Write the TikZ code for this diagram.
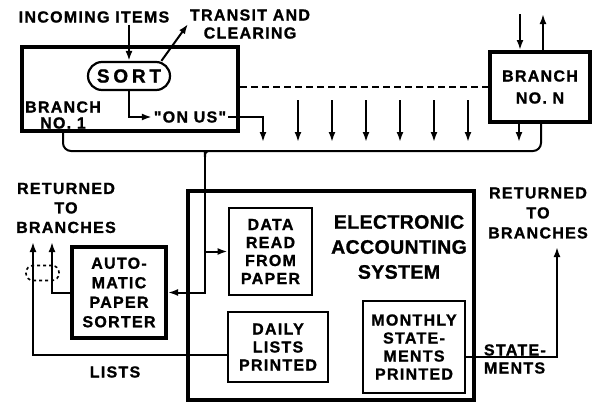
\documentclass[tikz,border=0pt]{standalone}
\usepackage{fontspec}
\setmainfont{Liberation Sans}[LetterSpace=8, BoldFeatures={FakeBold=1.2}]
\newfontfamily\quotefont{Liberation Sans}[LetterSpace=8, BoldFeatures={FakeBold=1.2}] % keeps the straight quotes
\usetikzlibrary{arrows.meta,positioning}

\begin{document}
\begin{tikzpicture}[x=1pt,y=-1pt,line width=2pt,
  font=\bfseries\fontsize{16}{18}\selectfont,
  arr/.style={-{Latex[length=10pt,width=7pt]}},
  heavy/.style={rectangle, draw, line width=4pt, align=center},
  unit/.style={rectangle, draw, line width=2.8pt, align=center},
  lbl/.style={align=center, inner sep=1pt}] % pixel units, y runs downwards
\useasboundingbox (0,0) rectangle (595,402);

% branches at the top
\node[heavy, minimum width=216pt, minimum height=84pt](B1) at (130,89){};
\node[heavy, minimum width=100pt, minimum height=70pt, font=\bfseries\fontsize{16}{22}\selectfont](BN) at (540,87){BRANCH\\NO. N};
\node[lbl, font=\bfseries\fontsize{16}{16}\selectfont](B1txt) at (63,115){BRANCH\\NO. 1};
\node[draw, line width=2.2pt, rounded corners=14pt, minimum width=82pt, minimum height=28pt,
  inner sep=0pt, font=\bfseries\fontsize{19}{22}\selectfont\addfontfeature{LetterSpace=20}](sort) at (129,76){SORT};
\node[lbl, font=\quotefont\bfseries\fontsize{16}{18}\selectfont](onus) at (190,117){"ON US"};
\node[lbl](incoming) at (94,17){INCOMING ITEMS};
\node[lbl](transit) at (250,24){TRANSIT AND\\CLEARING};

% accounting system and its units
\node[heavy, line width=3.6pt, minimum width=286pt, minimum height=209pt](EAS) at (331,295.5){};
\node[lbl, font=\bfseries\fontsize{19.5}{25}\selectfont\addfontfeature{LetterSpace=2}](EAStxt) at (399,247){ELECTRONIC\\ACCOUNTING\\SYSTEM};
\node[unit, minimum width=83pt, minimum height=87pt, inner sep=1pt](data) at (270.5,251.5){DATA\\READ\\FROM\\PAPER};
\node[unit, minimum width=100pt, minimum height=70pt](daily) at (278,347){DAILY\\LISTS\\PRINTED};
\node[unit, minimum width=102pt, minimum height=92pt, inner sep=1pt](monthly) at (414,347){MONTHLY\\STATE-\\MENTS\\PRINTED};
\node[heavy, minimum width=94pt, minimum height=91pt, font=\bfseries\fontsize{16}{19.5}\selectfont](sorter) at (119,292.5){AUTO-\\MATIC\\PAPER\\SORTER};

% outputs
\coordinate (up1) at (33,242);
\coordinate (up2) at (52,242);
\coordinate (up3) at (557,247);
\node[lbl, font=\bfseries\fontsize{16}{19.5}\selectfont](retL) at (66,208){RETURNED\\TO\\BRANCHES};
\node[lbl, font=\bfseries\fontsize{16}{20}\selectfont](retR) at (538,213){RETURNED\\TO\\BRANCHES};
\node[lbl](lists) at (115,372){LISTS};
\node[lbl, align=left, anchor=west](stmt) at (482,359){STATE-\\MENTS};
\node[draw, dashed, line width=1.6pt, rounded corners=7pt, minimum width=33pt, minimum height=15pt](bundle) at (42.5,273){};

% flow inside branch no. 1
\draw[arr](incoming.south -| sort.north) -- (sort.north);
\draw[arr](sort.25) -- (transit.west);
\draw[arr](sort.south) |- (onus.west);
\coordinate (t0) at (263,142);
\draw[arr](onus.east) -| (t0);

% items from the other branches
\foreach \x in {298,332,366,400,434,468} \draw[arr](\x,100) -- (\x,142);
\draw[dashed, dash pattern=on 7pt off 4pt](BN.west -| B1.east) -- (BN.west);
\coordinate (nin) at (520,14);
\coordinate (nout) at (543,14);
\coordinate (nlow) at (519,142);
\draw[arr](nin) -- (nin |- BN.north);
\draw[arr](BN.north -| nout) -- (nout);
\draw[arr](BN.south -| nlow) -- (nlow);

% collecting brace
\coordinate (tip) at (205,157);
\draw (B1.south -| 63,0) [rounded corners=8pt] |- (199,151) [sharp corners] .. controls (204,151) and (205,152) .. (tip);
\draw (tip) .. controls (205,152) and (206,151) .. (211,151) [rounded corners=8pt] -| (BN.south -| 541,0);

% to the machines and back
\draw[arr](tip) |- (sorter.east);
\draw[arr](data.west -| tip) -- (data.west);
\draw[arr](sorter.west) -| (up2);
\draw[arr]([yshift=-8pt]daily.west) -| (up1);
\draw[arr]([yshift=-10pt]monthly.east) -| (up3);

\end{tikzpicture}
\end{document}
